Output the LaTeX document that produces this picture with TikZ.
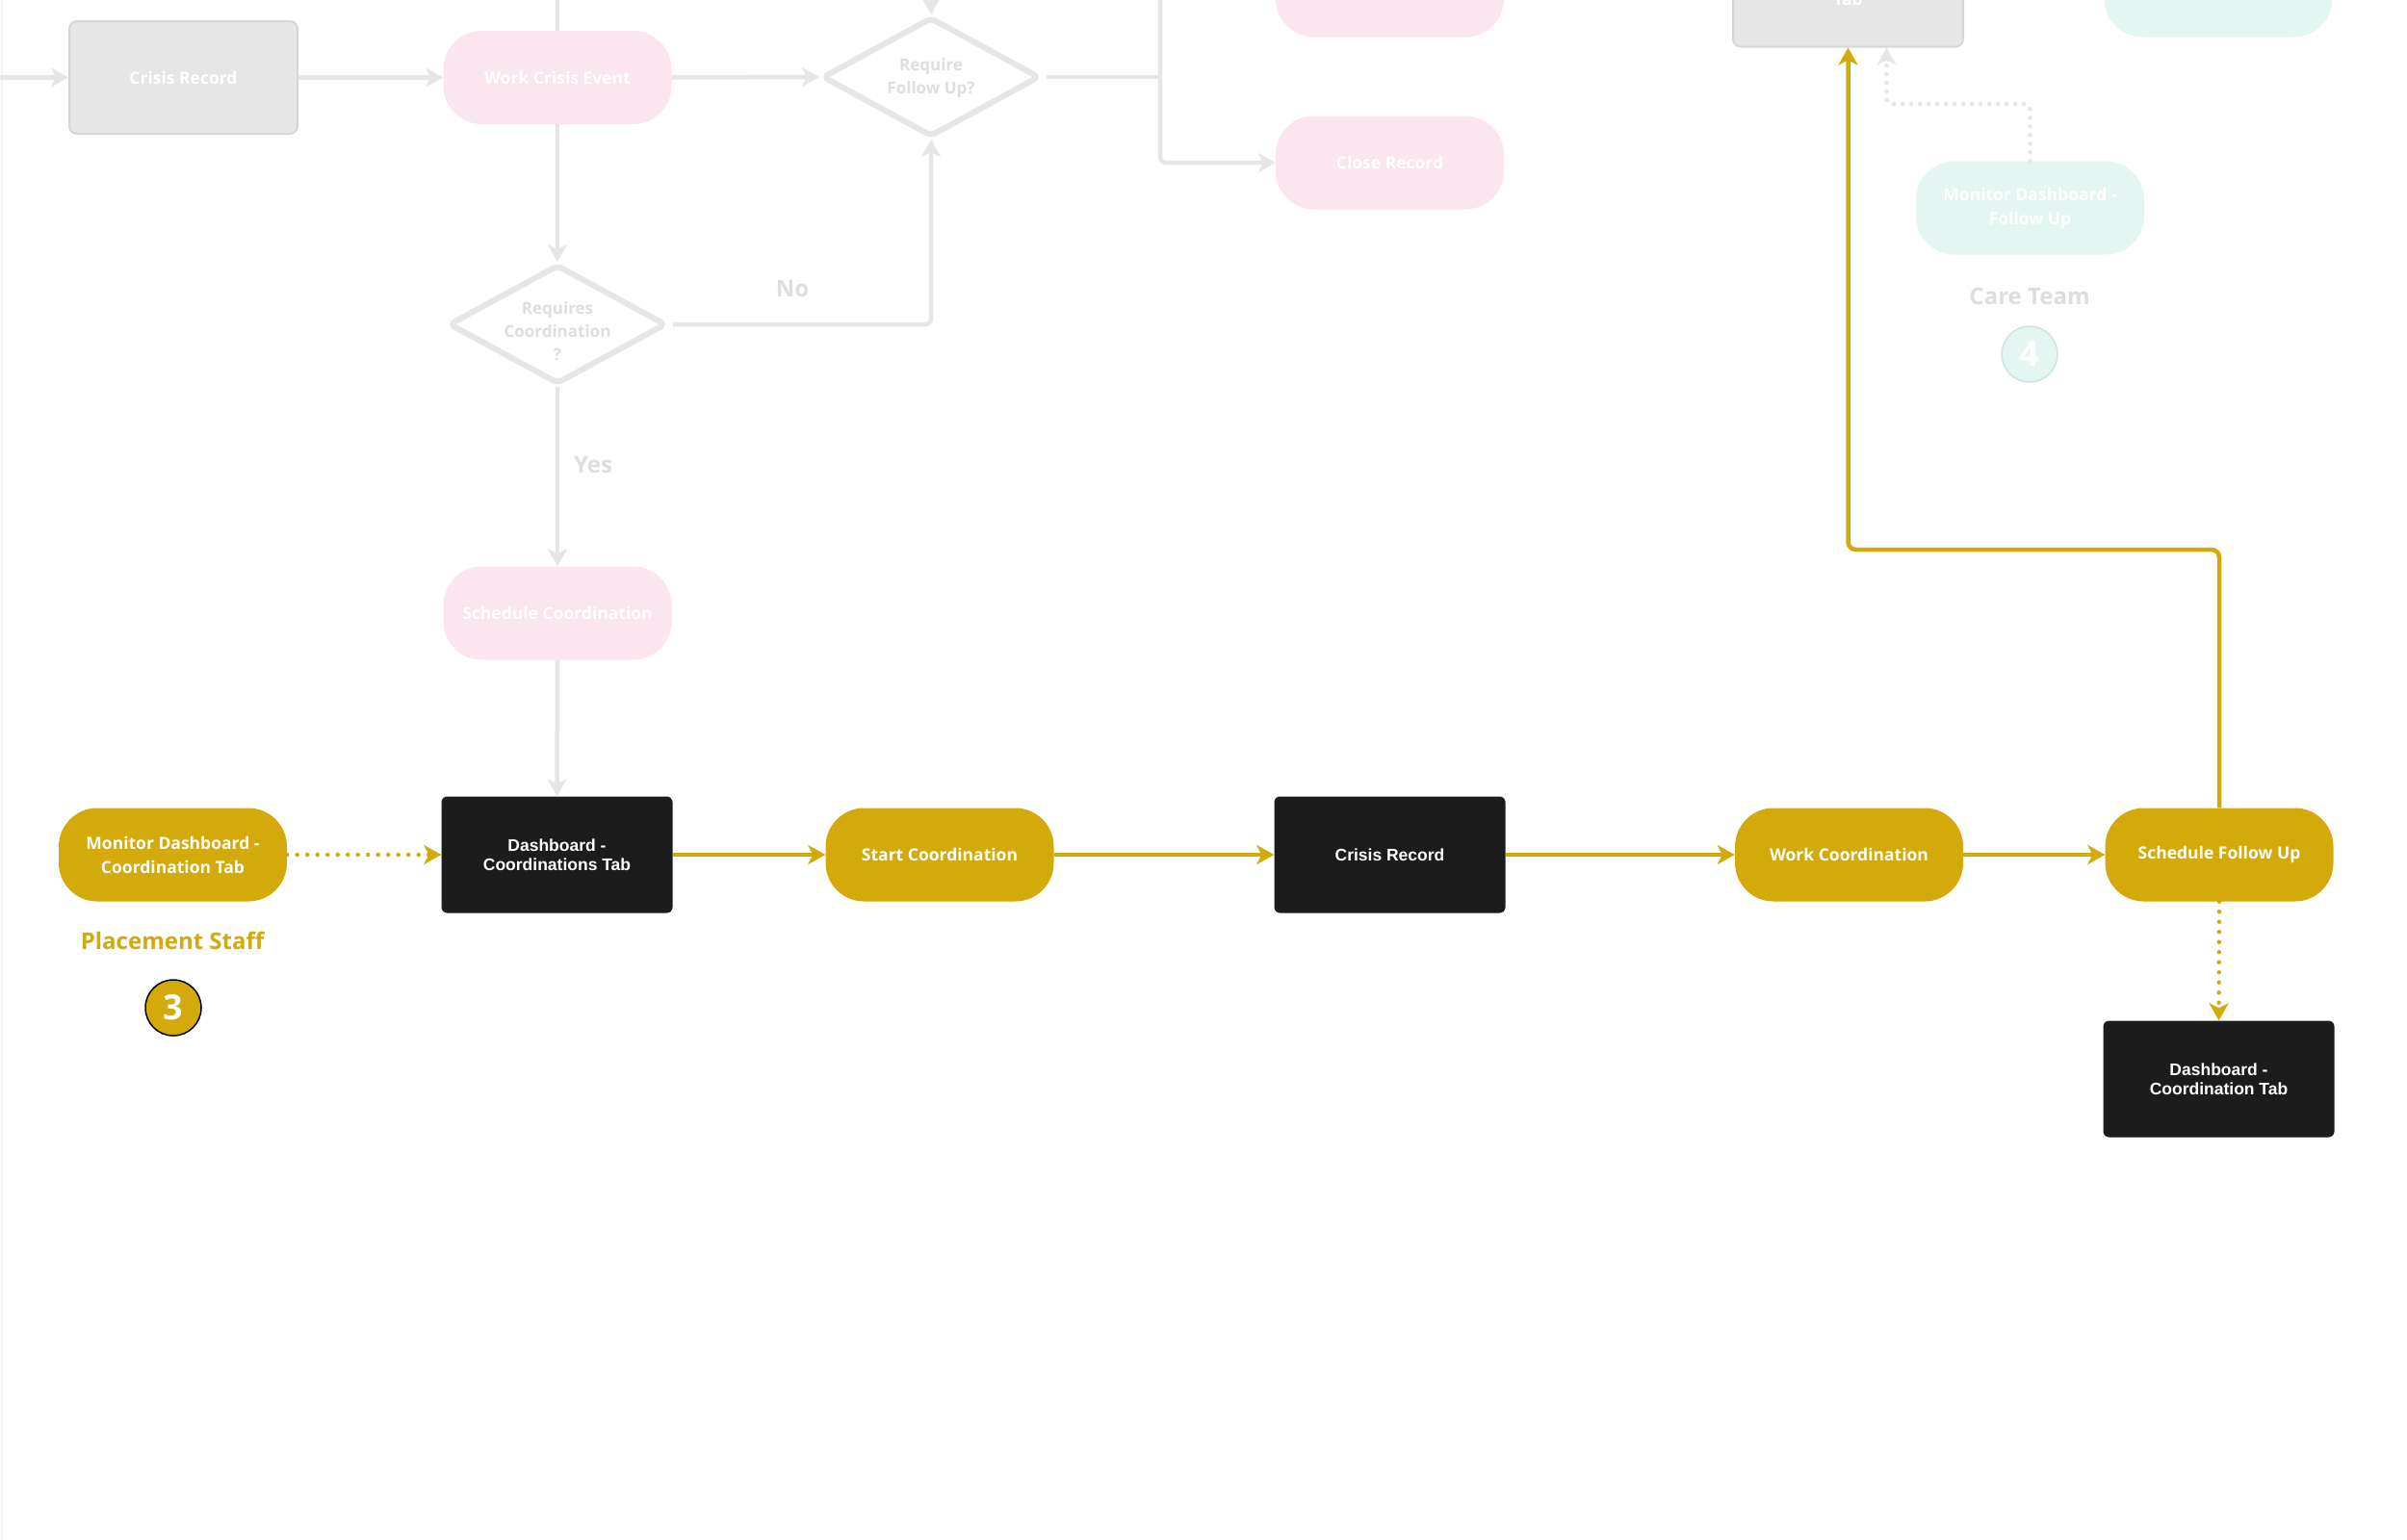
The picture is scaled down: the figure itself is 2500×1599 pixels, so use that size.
\documentclass[tikz,border=0pt]{standalone}
\usepackage{fontspec}
\usetikzlibrary{arrows.meta,shapes.geometric}
\newfontfamily\os{Open Sans}
\newfontfamily\ls{Liberation Sans}
\definecolor{mygold}{HTML}{D4AA0B}
\definecolor{blk}{HTML}{1C1C1C}
\definecolor{grayf}{HTML}{E6E6E6}
\definecolor{grayb}{HTML}{D6D6D6}
\definecolor{grayl}{HTML}{E6E6E6}
\definecolor{pinkf}{HTML}{FBE5EE}
\definecolor{tealf}{HTML}{E5F5F2}
\definecolor{tealb}{HTML}{CFE4E0}
\definecolor{fadetxt}{HTML}{DEDEDE}
\tikzset{
  pill/.style={rounded corners=40pt, minimum width=237pt, minimum height=97pt, inner sep=0pt, align=center, text=white, font=\os\bfseries\fontsize{17.5}{25}\selectfont},
  goldpill/.style={pill, fill=mygold},
  pinkpill/.style={pill, fill=pinkf},
  tealpill/.style={pill, fill=tealf},
  blackbox/.style={fill=blk, rounded corners=6pt, minimum width=240pt, minimum height=121pt, inner sep=0pt, align=center, text=white, font=\ls\bfseries\fontsize{17.5}{20}\selectfont},
  graybox/.style={fill=grayf, draw=grayb, line width=2pt, rounded corners=8pt, minimum width=237pt, minimum height=117pt, inner sep=0pt, align=center, text=white, font=\os\bfseries\fontsize{17.5}{25}\selectfont},
  dia/.style={diamond, draw=grayl, line width=6pt, fill=white, rounded corners=6pt, minimum width=226pt, minimum height=124pt, inner sep=0pt},
  diatext/.style={align=center, text=fadetxt, font=\os\bfseries\fontsize{17}{24}\selectfont},
  grayline/.style={draw=grayl, line width=4.5pt, rounded corners=6pt},
  garrow/.style={grayline, -{Stealth[length=18pt,width=20pt,inset=5pt]}},
  graydot/.style={garrow, line cap=round, dash pattern=on 0pt off 9pt},
  goldarrow/.style={draw=mygold, line width=4.5pt, rounded corners=8pt, -{Stealth[length=18pt,width=20pt,inset=5pt]}},
  golddot/.style={goldarrow, line cap=round, dash pattern=on 0pt off 10.5pt},
  lbl/.style={font=\os\bfseries\fontsize{24}{28}\selectfont},
  numcirc/.style={circle, minimum size=58pt, inner sep=0pt, text=white, font=\os\bfseries\fontsize{36}{40}\selectfont},
}
\begin{document}
\begin{tikzpicture}[x=1pt,y=-1pt]
\fill[white] (0,0) rectangle (2500,1599);
\useasboundingbox (0,0) rectangle (2500,1599);
\draw[draw=grayl!45, line width=2pt] (2,0) -- (2,1599);

% ---- faded upper part ----
\node[graybox] (cr1) at (190.5,80.5) {Crisis Record};
\node[pinkpill] (wce) at (579,80.5) {Work Crisis Event};
\node[dia] (rfu) at (967,80) {};
\node[diatext] (rfut) at (967,81) {Require\\Follow Up?};
\node[pinkpill] (toppink) at (1443.5,-10) {};
\node[pinkpill] (close) at (1443.5,169) {Close Record};
\node[graybox, minimum width=239pt] (tabbox) at (1919.5,-10) {};
\node[text=white, font=\os\bfseries\fontsize{17.5}{25}\selectfont, anchor=base, inner sep=0pt] (tabtxt) at (1919.5,5) {Tab};
\node[tealpill] (topteal) at (2304,-10) {};
\node[tealpill] (mfu) at (2108.5,216) {Monitor Dashboard -\\Follow Up};
\node[lbl, text=fadetxt] (care) at (2108,308) {Care Team};
\node[numcirc, fill=tealf, draw=tealb, line width=1.5pt] (c4) at (2108,368) {4};
\node[dia] (rc) at (579,337) {};
\node[diatext] (rct) at (579,344) {Requires\\Coordination\\?};
\node[pinkpill] (sc) at (579,637) {Schedule Coordination};

\coordinate (lin) at (0,80.5);
\coordinate (wceup) at (579,-40);
\coordinate (rfuup) at (967,-40);
\coordinate (split) at (1205,80);
\coordinate (tabin) at (1740,-10);
\coordinate (tealin) at (2120,-10);

\draw[garrow] (lin) -- (cr1.west);
\draw[garrow] (cr1.east) -- (wce.west);
\draw[grayline] (wceup) -- (wce.north);
\draw[garrow] (wce.east) -- (rfu.west);
\draw[garrow] (rfuup) -- (rfu.north);
\draw[garrow] (wce.south) -- (rc.north);
\draw[garrow] ([xshift=4pt]rc.east) -| (rfu.south);
\node[lbl, text=fadetxt] (nolbl) at (823,300) {No};
\draw[garrow] (rc.south) -- (sc.north);
\node[lbl, text=fadetxt] (yeslbl) at (616,483) {Yes};
\draw[grayline] ([xshift=4pt]rfu.east) -- (split);
\draw[garrow] (split) |- (close.west);
\draw[garrow] (split) |- (toppink.west);
\draw[garrow] (tabin) -- (tabbox.west);
\draw[garrow] (tealin) -- (topteal.west);
\draw[graydot] (mfu.north) -- (2108.5,108) -| ([xshift=40pt]tabbox.south);

% ---- highlighted lane ----
\node[goldpill] (mdc) at (179.5,888) {Monitor Dashboard -\\Coordination Tab};
\node[blackbox] (dct) at (578.5,888) {Dashboard -\\Coordinations Tab};
\node[goldpill] (stc) at (976,888) {Start Coordination};
\node[blackbox] (cr2) at (1443.5,888) {Crisis Record};
\node[goldpill] (wc) at (1920.5,888) {Work Coordination};
\node[goldpill] (sfu) at (2305,888) {Schedule Follow Up};
\node[blackbox] (dct2) at (2304.5,1121) {Dashboard -\\Coordination Tab};
\node[lbl, text=mygold] (place) at (179,977) {Placement Staff};
\node[numcirc, fill=mygold, draw=black, line width=1.5pt] (c3) at (180,1047) {3};

\draw[garrow] (sc.south) -- (dct.north);
\draw[golddot] (mdc.east) -- (dct.west);
\draw[goldarrow] (dct.east) -- (stc.west);
\draw[goldarrow] (stc.east) -- (cr2.west);
\draw[goldarrow] (cr2.east) -- (wc.west);
\draw[goldarrow] (wc.east) -- (sfu.west);
\draw[golddot] (sfu.south) -- (dct2.north);
\draw[goldarrow] (sfu.north) -- (2305,571) -| (tabbox.south);
\end{tikzpicture}
\end{document}
